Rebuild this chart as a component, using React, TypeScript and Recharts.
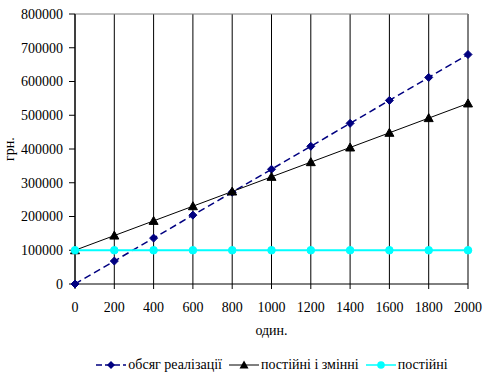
import React from 'react';
import { LineChart, Line, XAxis, YAxis, CartesianGrid, ReferenceLine, Legend } from 'recharts';

const units = [0, 200, 400, 600, 800, 1000, 1200, 1400, 1600, 1800, 2000];
const revenue = [0, 68000, 136000, 204000, 272000, 340000, 408000, 476000, 544000, 612000, 680000];
const totalCosts = [100000, 143500, 187000, 230500, 274000, 317500, 361000, 404500, 448000, 491500, 535000];
const fixedCosts = [100000, 100000, 100000, 100000, 100000, 100000, 100000, 100000, 100000, 100000, 100000];
const yTicks = [0, 100000, 200000, 300000, 400000, 500000, 600000, 700000, 800000];
const names = ['обсяг реалізації', 'постійні і змінні', 'постійні'];

const data = units.map((u, i) => ({ u, revenue: revenue[i], total: totalCosts[i], fixed: fixedCosts[i] }));

const FONT = 'Liberation Serif';
const BLUE = '#000080';
const CYAN = '#00FFFF';

const Diamond = (p: any) => {
  const { cx, cy } = p;
  if (cx == null || cy == null) return null;
  return <path key={`d${p.index}`} d={`M${cx},${cy - 4}L${cx + 4},${cy}L${cx},${cy + 4}L${cx - 4},${cy}Z`} fill={BLUE} stroke={BLUE} />;
};
const Triangle = (p: any) => {
  const { cx, cy } = p;
  if (cx == null || cy == null) return null;
  return <path key={`t${p.index}`} d={`M${cx},${cy - 4.5}L${cx + 4.5},${cy + 3.5}L${cx - 4.5},${cy + 3.5}Z`} fill="#000" stroke="#000" />;
};
const Dot = (p: any) => {
  const { cx, cy } = p;
  if (cx == null || cy == null) return null;
  return <circle key={`c${p.index}`} cx={cx} cy={cy} r={3.8} fill={CYAN} stroke={CYAN} />;
};

const LegendContent = () => {
  const items = [
    { name: names[0], color: BLUE, dash: '6 3', shape: 'diamond' },
    { name: names[1], color: '#000', dash: undefined, shape: 'triangle' },
    { name: names[2], color: CYAN, dash: undefined, shape: 'circle' },
  ];
  return (
    <div style={{ display: 'flex', justifyContent: 'center', alignItems: 'center', fontFamily: FONT, fontSize: 14, color: '#000' }}>
      {items.map((it, i) => (
        <div key={i} style={{ display: 'flex', alignItems: 'center', marginRight: 7 }}>
          <svg width={30} height={12} style={{ marginRight: 2 }}>
            <line x1={0} y1={6} x2={30} y2={6} stroke={it.color} strokeWidth={it.shape === 'triangle' ? 1 : 1.5} strokeDasharray={it.dash} />
            {it.shape === 'diamond' && <path d="M15,2L19,6L15,10L11,6Z" fill={it.color} />}
            {it.shape === 'triangle' && <path d="M15,1.5L19.5,9.5L10.5,9.5Z" fill={it.color} />}
            {it.shape === 'circle' && <circle cx={15} cy={6} r={3.8} fill={it.color} />}
          </svg>
          <span>{it.name}</span>
        </div>
      ))}
    </div>
  );
};

const YLabel = (props: any) => {
  const vb = props.viewBox || {};
  const cy = (vb.y ?? 14) + (vb.height ?? 269) / 2;
  return (
    <text x={14} y={cy} transform={`rotate(-90 14 ${cy})`} textAnchor="middle" fontFamily={FONT} fontSize={14} fill="#000">
      грн.
    </text>
  );
};

export default function App() {
  return (
    <div style={{ position: 'absolute', left: 0, top: 0, width: 487, height: 376, background: '#fff', fontFamily: FONT }}>
      <LineChart width={487} height={376} data={data} margin={{ top: 14, right: 19, left: 0, bottom: 12 }} style={{ fontFamily: FONT }}>
        <CartesianGrid horizontal={false} vertical={true} stroke="#000" strokeWidth={1} />
        <ReferenceLine y={800000} stroke="#808080" strokeWidth={1} />
        <ReferenceLine x={2000} stroke="#808080" strokeWidth={1} />
        <XAxis
          dataKey="u"
          type="number"
          domain={[0, 2000]}
          ticks={units}
          interval={0}
          tickSize={5}
          tickMargin={13}
          axisLine={{ stroke: '#000' }}
          tickLine={{ stroke: '#000' }}
          tick={{ fontFamily: FONT, fontSize: 14, fill: '#000' }}
          height={60}
          label={{ value: 'один.', position: 'insideBottom', offset: 9, fontFamily: FONT, fontSize: 14, fill: '#000' }}
        />
        <YAxis
          type="number"
          domain={[0, 800000]}
          ticks={yTicks}
          interval={0}
          width={75}
          tickSize={6}
          tickMargin={6}
          axisLine={{ stroke: '#000' }}
          tickLine={{ stroke: '#000' }}
          tick={{ fontFamily: FONT, fontSize: 14, fill: '#000' }}
          label={<YLabel />}
        />
        <Line type="linear" dataKey="revenue" name={names[0]} stroke={BLUE} strokeWidth={1.5} strokeDasharray="7 4" dot={Diamond} activeDot={false} isAnimationActive={false} />
        <Line type="linear" dataKey="total" name={names[1]} stroke="#000" strokeWidth={1} dot={Triangle} activeDot={false} isAnimationActive={false} />
        <Line type="linear" dataKey="fixed" name={names[2]} stroke={CYAN} strokeWidth={2} dot={Dot} activeDot={false} isAnimationActive={false} />
        <Legend content={<LegendContent />} wrapperStyle={{ position: 'absolute', top: 357, left: 0, width: 487, height: 20, paddingLeft: 64, boxSizing: 'border-box' }} />
      </LineChart>
    </div>
  );
}
